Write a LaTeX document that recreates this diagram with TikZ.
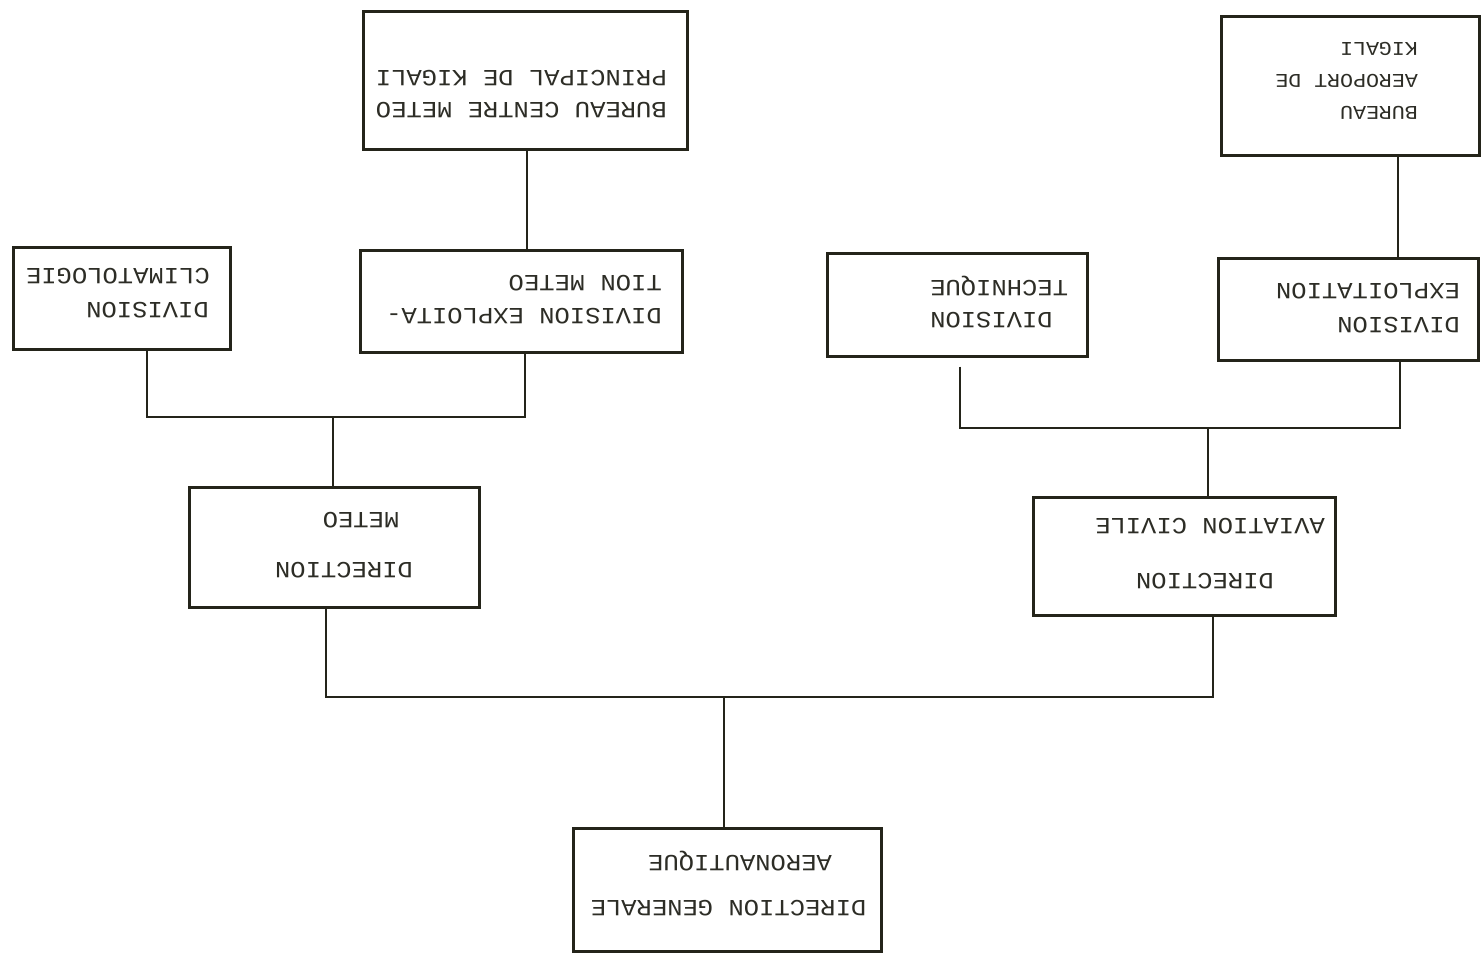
\documentclass[tikz,border=0pt]{standalone}
\usepackage{fontspec}
\newfontfamily\tw[FakeStretch=1.1]{Liberation Mono}
\definecolor{ink}{RGB}{36,36,26}
\definecolor{txt}{RGB}{45,45,38}
\begin{document}
\begin{tikzpicture}[x=1pt,y=-1pt,
  box/.style={draw=ink,line width=3pt,inner sep=0pt},
  ln/.style={rotate=180,font=\tw\fontsize{23.2}{23.2}\selectfont,text=txt,inner sep=0pt},
  lnsmall/.style={ln,font=\tw\fontsize{19.6}{19.6}\selectfont},
  wire/.style={draw=ink,line width=2pt}]
\fill[white] (0,0) rectangle (1481,954);
\useasboundingbox (0,0) rectangle (1481,954);
% boxes
\node[box,minimum width=324pt,minimum height=138pt] (bc) at (525,80) {};
\node[box,minimum width=258pt,minimum height=139pt] (ba) at (1350,85.5) {};
\node[box,minimum width=217pt,minimum height=102pt] (cl) at (121.5,298) {};
\node[box,minimum width=322pt,minimum height=102pt] (dem) at (521,301) {};
\node[box,minimum width=260pt,minimum height=103pt] (dt) at (957,304.5) {};
\node[box,minimum width=260pt,minimum height=102pt] (de) at (1348,309) {};
\node[box,minimum width=290pt,minimum height=120pt] (dm) at (334,547) {};
\node[box,minimum width=302pt,minimum height=118pt] (dac) at (1184,556) {};
\node[box,minimum width=308pt,minimum height=123pt] (dg) at (727,889.5) {};
% texts
\node[ln,anchor=base west] (t1a) at (667,70) {PRINCIPAL DE KIGALI};
\node[ln,anchor=base west] (t1b) at (667,102) {BUREAU CENTRE METEO};
\node[lnsmall,anchor=base west] (t2a) at (1418,42) {KIGALI};
\node[lnsmall,anchor=base west] (t2b) at (1418,74) {AEROPORT DE};
\node[lnsmall,anchor=base west] (t2c) at (1418,106) {BUREAU};
\node[ln,anchor=base west] (t3a) at (210,268) {CLIMATOLOGIE};
\node[ln,anchor=base west] (t3b) at (209,302) {DIVISION};
\node[ln,anchor=base west] (t4a) at (662,275) {TION METEO};
\node[ln,anchor=base west] (t4b) at (662,308) {DIVISION EXPLOITA-};
\node[ln,anchor=base east] (t5a) at (930,280) {TECHNIQUE};
\node[ln,anchor=base east] (t5b) at (930,312) {DIVISION};
\node[ln,anchor=base west] (t6a) at (1460,283) {EXPLOITATION};
\node[ln,anchor=base west] (t6b) at (1460,317) {DIVISION};
\node[ln,anchor=base] (t7a) at (361,512) {METEO};
\node[ln,anchor=base] (t7b) at (344,562) {DIRECTION};
\node[ln,anchor=base] (t8a) at (1210,518) {AVIATION CIVILE};
\node[ln,anchor=base] (t8b) at (1205,573) {DIRECTION};
\node[ln,anchor=base] (t9a) at (740,855) {AERONAUTIQUE};
\node[ln,anchor=base] (t9b) at (728.5,900) {DIRECTION GENERALE};
% junctions
\coordinate (j1) at (333,417);
\coordinate (j2) at (1208,428);
\coordinate (j3) at (724,697);
% connectors
\draw[wire] ([xshift=2pt]bc.south) -- ([xshift=2pt]bc.south |- dem.north);
\draw[wire] ([xshift=48pt]ba.south) -- ([xshift=48pt]ba.south |- de.north);
\draw[wire] ([xshift=25.5pt]cl.south) |- (j1) -| ([xshift=4pt]dem.south);
\draw[wire] (j1) -- (j1 |- dm.north);
\draw[wire,shorten <=9pt] ([xshift=3pt]dt.south) |- (j2) -| ([xshift=52pt]de.south);
\draw[wire] (j2) -- (j2 |- dac.north);
\draw[wire] ([xshift=-8pt]dm.south) |- (j3) -| ([xshift=29pt]dac.south);
\draw[wire] (j3) -- (j3 |- dg.north);
\end{tikzpicture}
\end{document}
